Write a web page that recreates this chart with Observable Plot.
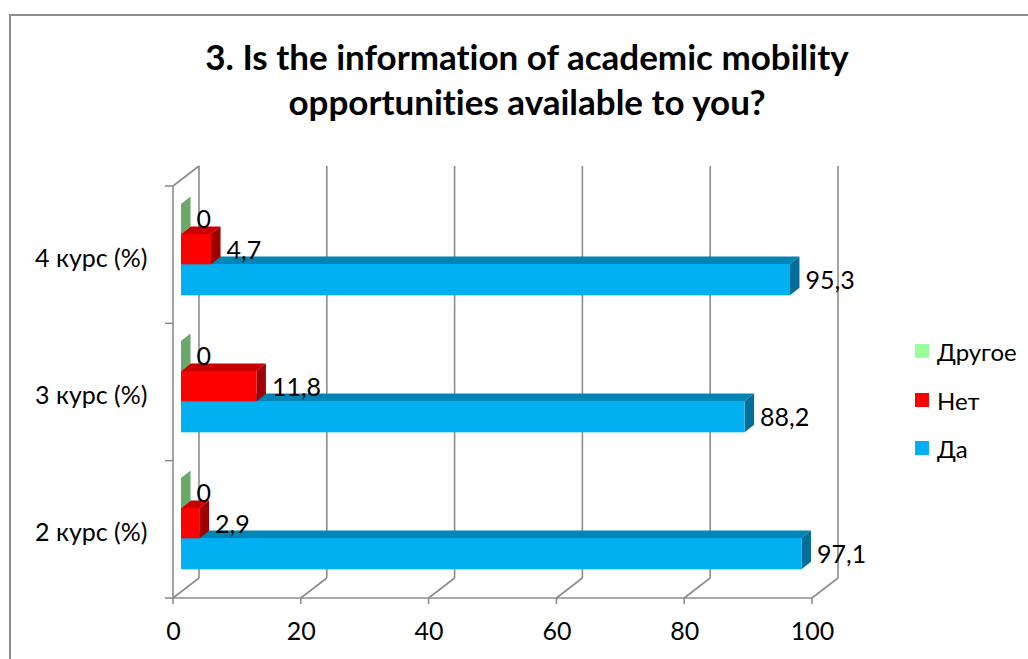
<!DOCTYPE html>
<html>
<head>
<meta charset="utf-8">
<script src="https://cdn.jsdelivr.net/npm/d3@7"></script>
<script src="https://cdn.jsdelivr.net/npm/@observablehq/plot@0.6"></script>
<style>
  html, body { margin: 0; padding: 0; background: #fff; }
  #wrap { position: relative; width: 1028px; height: 659px; overflow: hidden; font-family: Lato, sans-serif; font-variant-ligatures: none; }
  #frame { position: absolute; left: 9px; top: 14px; width: 1040px; height: 680px; border: 2px solid #8c8c8c; box-sizing: border-box; pointer-events: none; }
  #title { height: 130px; box-sizing: border-box; padding-top: 34px; width: 1054px; text-align: center;
           font-family: Lato, sans-serif; font-weight: bold; font-size: 35px; line-height: 45px; color: #000;
           font-variant-ligatures: none; font-feature-settings: "liga" 0, "clig" 0; }
  #legend { position: absolute; left: 915px; top: 0; font-size: 24px; color: #000; }
  .lg { position: absolute; left: 0; height: 30px; display: flex; align-items: center; white-space: nowrap; }
  .sw { width: 14px; height: 14px; margin-right: 8px; }
  svg { display: block; }
</style>
</head>
<body>
<div id="wrap">
  <div id="title">3. Is the information of academic mobility<br>opportunities available to you?</div>
  <div id="chart"></div>
  <div id="legend"></div>
  <div id="frame"></div>
</div>
<script>
// ---- data ----
const categories = ["4 курс (%)", "3 курс (%)", "2 курс (%)"];
const seriesNames = ["Да", "Нет", "Другое"];
const valuesDa = [95.3, 88.2, 97.1];
const valuesNet = [4.7, 11.8, 2.9];
const valuesOther = [0, 0, 0];
const xTicks = [0, 20, 40, 60, 80, 100];
const legendOrder = ["Другое", "Нет", "Да"];

// ---- derived table ----
const seriesValues = {"Да": valuesDa, "Нет": valuesNet, "Другое": valuesOther};
const rows = seriesNames.flatMap(s => categories.map((c, i) => ({category: c, series: s, value: seriesValues[s][i]})));

// ---- styles ----
const look = {
  "Да":     {front: "#00B0F0", top: "#0085B6", side: "#006E98", insetTop: 77, insetBottom: 29, labelDy: 25},
  "Нет":    {front: "#FF0000", top: "#C80000", side: "#9E0000", insetTop: 47, insetBottom: 60, labelDy: -5},
  "Другое": {front: "#99FF99", top: "#7CC97C", side: "#68A868", insetTop: 17, insetBottom: 90, labelDy: -36}
};
const depth = {bar: 8, bdx: 9.5, bdy: -7.5, wdx: 26, wdy: -20};
const gridColor = "#8c8c8c";
const fmt = v => String(v).replace(".", ",");

function box3d(st) {
  return function(index, scales, values, dims) {
    const g = d3.create("svg:g");
    const bw = (dims.height - dims.marginTop - dims.marginBottom) / categories.length;
    for (const i of index) {
      const a = Math.min(values.x1[i], values.x2[i]) + depth.bar;
      const b = Math.max(values.x1[i], values.x2[i]) + depth.bar;
      const yt = values.y[i] + st.insetTop;
      const yb = values.y[i] + bw - st.insetBottom;
      const dx = depth.bdx, dy = depth.bdy;
      g.append("polygon").attr("fill", st.top)
        .attr("points", [[a, yt], [a + dx, yt + dy], [b + dx, yt + dy], [b, yt]].join(" "));
      g.append("polygon").attr("fill", st.side)
        .attr("points", [[b, yt], [b + dx, yt + dy], [b + dx, yb + dy], [b, yb]].join(" "));
      if (b > a) g.append("rect").attr("fill", st.front)
        .attr("x", a).attr("y", yt).attr("width", b - a).attr("height", yb - yt);
    }
    return g.node();
  };
}

function walls(index, scales, values, dims) {
  const g = d3.create("svg:g").attr("stroke", gridColor).attr("stroke-width", 1.6).attr("fill", "none");
  const top = dims.marginTop, bottom = dims.height - dims.marginBottom;
  const bw = (bottom - top) / categories.length;
  const xs = Array.from(index, i => values.x[i]);
  const x0 = Math.min(...xs), x1 = Math.max(...xs);
  const line = (p, q) => g.append("line").attr("x1", p[0]).attr("y1", p[1]).attr("x2", q[0]).attr("y2", q[1]);
  for (const px of xs) {
    line([px + depth.wdx, top + depth.wdy], [px + depth.wdx, bottom + depth.wdy]); // back wall grid
    line([px, bottom], [px + depth.wdx, bottom + depth.wdy]);                        // floor
    line([px, bottom], [px, bottom + 6]);                                            // tick
  }
  line([x0, bottom], [x1, bottom]);                          // front x axis
  line([x0, top], [x0, bottom]);                             // front y axis
  line([x0, top], [x0 + depth.wdx, top + depth.wdy]);        // top-left edge
  for (let k = 0; k <= categories.length; k++) line([x0 - 8, top + k * bw], [x0, top + k * bw]);
  return g.node();
}

const marks = [
  Plot.ruleX(xTicks, {x: d => d, stroke: gridColor, render: walls}),
  ...seriesNames.map(s => Plot.barX(rows.filter(r => r.series === s), {
    x: "value", y: "category", fill: look[s].front,
    insetTop: look[s].insetTop, insetBottom: look[s].insetBottom, render: box3d(look[s])
  })),
  ...seriesNames.map(s => Plot.text(rows.filter(r => r.series === s), {
    x: "value", y: "category", text: d => fmt(d.value), textAnchor: "start",
    dx: 23, dy: look[s].labelDy, fill: "#000", fontSize: 25
  })),
  Plot.axisX(xTicks, {tickSize: 0, tickPadding: 24, fontSize: 25, fill: "#000", label: null, tickFormat: d => String(d)}),
  Plot.axisY({tickSize: 0, tickPadding: 26, fontSize: 25, fill: "#000", label: null, dy: 3})
];

const chart = Plot.plot({
  width: 1028,
  height: 529,
  marginTop: 56,
  marginBottom: 61,
  marginLeft: 173,
  marginRight: 216,
  x: {domain: [0, 100], axis: null},
  y: {type: "band", domain: categories, padding: 0, axis: null},
  style: {fontFamily: "Lato, sans-serif", fontSize: "25px", color: "#000", background: "transparent", overflow: "visible"},
  marks
});
document.getElementById("chart").appendChild(chart);

// ---- legend ----
const legendColors = {"Да": look["Да"].front, "Нет": look["Нет"].front, "Другое": look["Другое"].front};
const legendCenters = [351, 400, 448];
const legend = d3.select("#legend");
legendOrder.forEach((s, k) => {
  const row = legend.append("div").attr("class", "lg").style("top", (legendCenters[k] - 15) + "px");
  row.append("div").attr("class", "sw").style("background", legendColors[s]);
  row.append("span").text(s);
});
</script>
</body>
</html>
